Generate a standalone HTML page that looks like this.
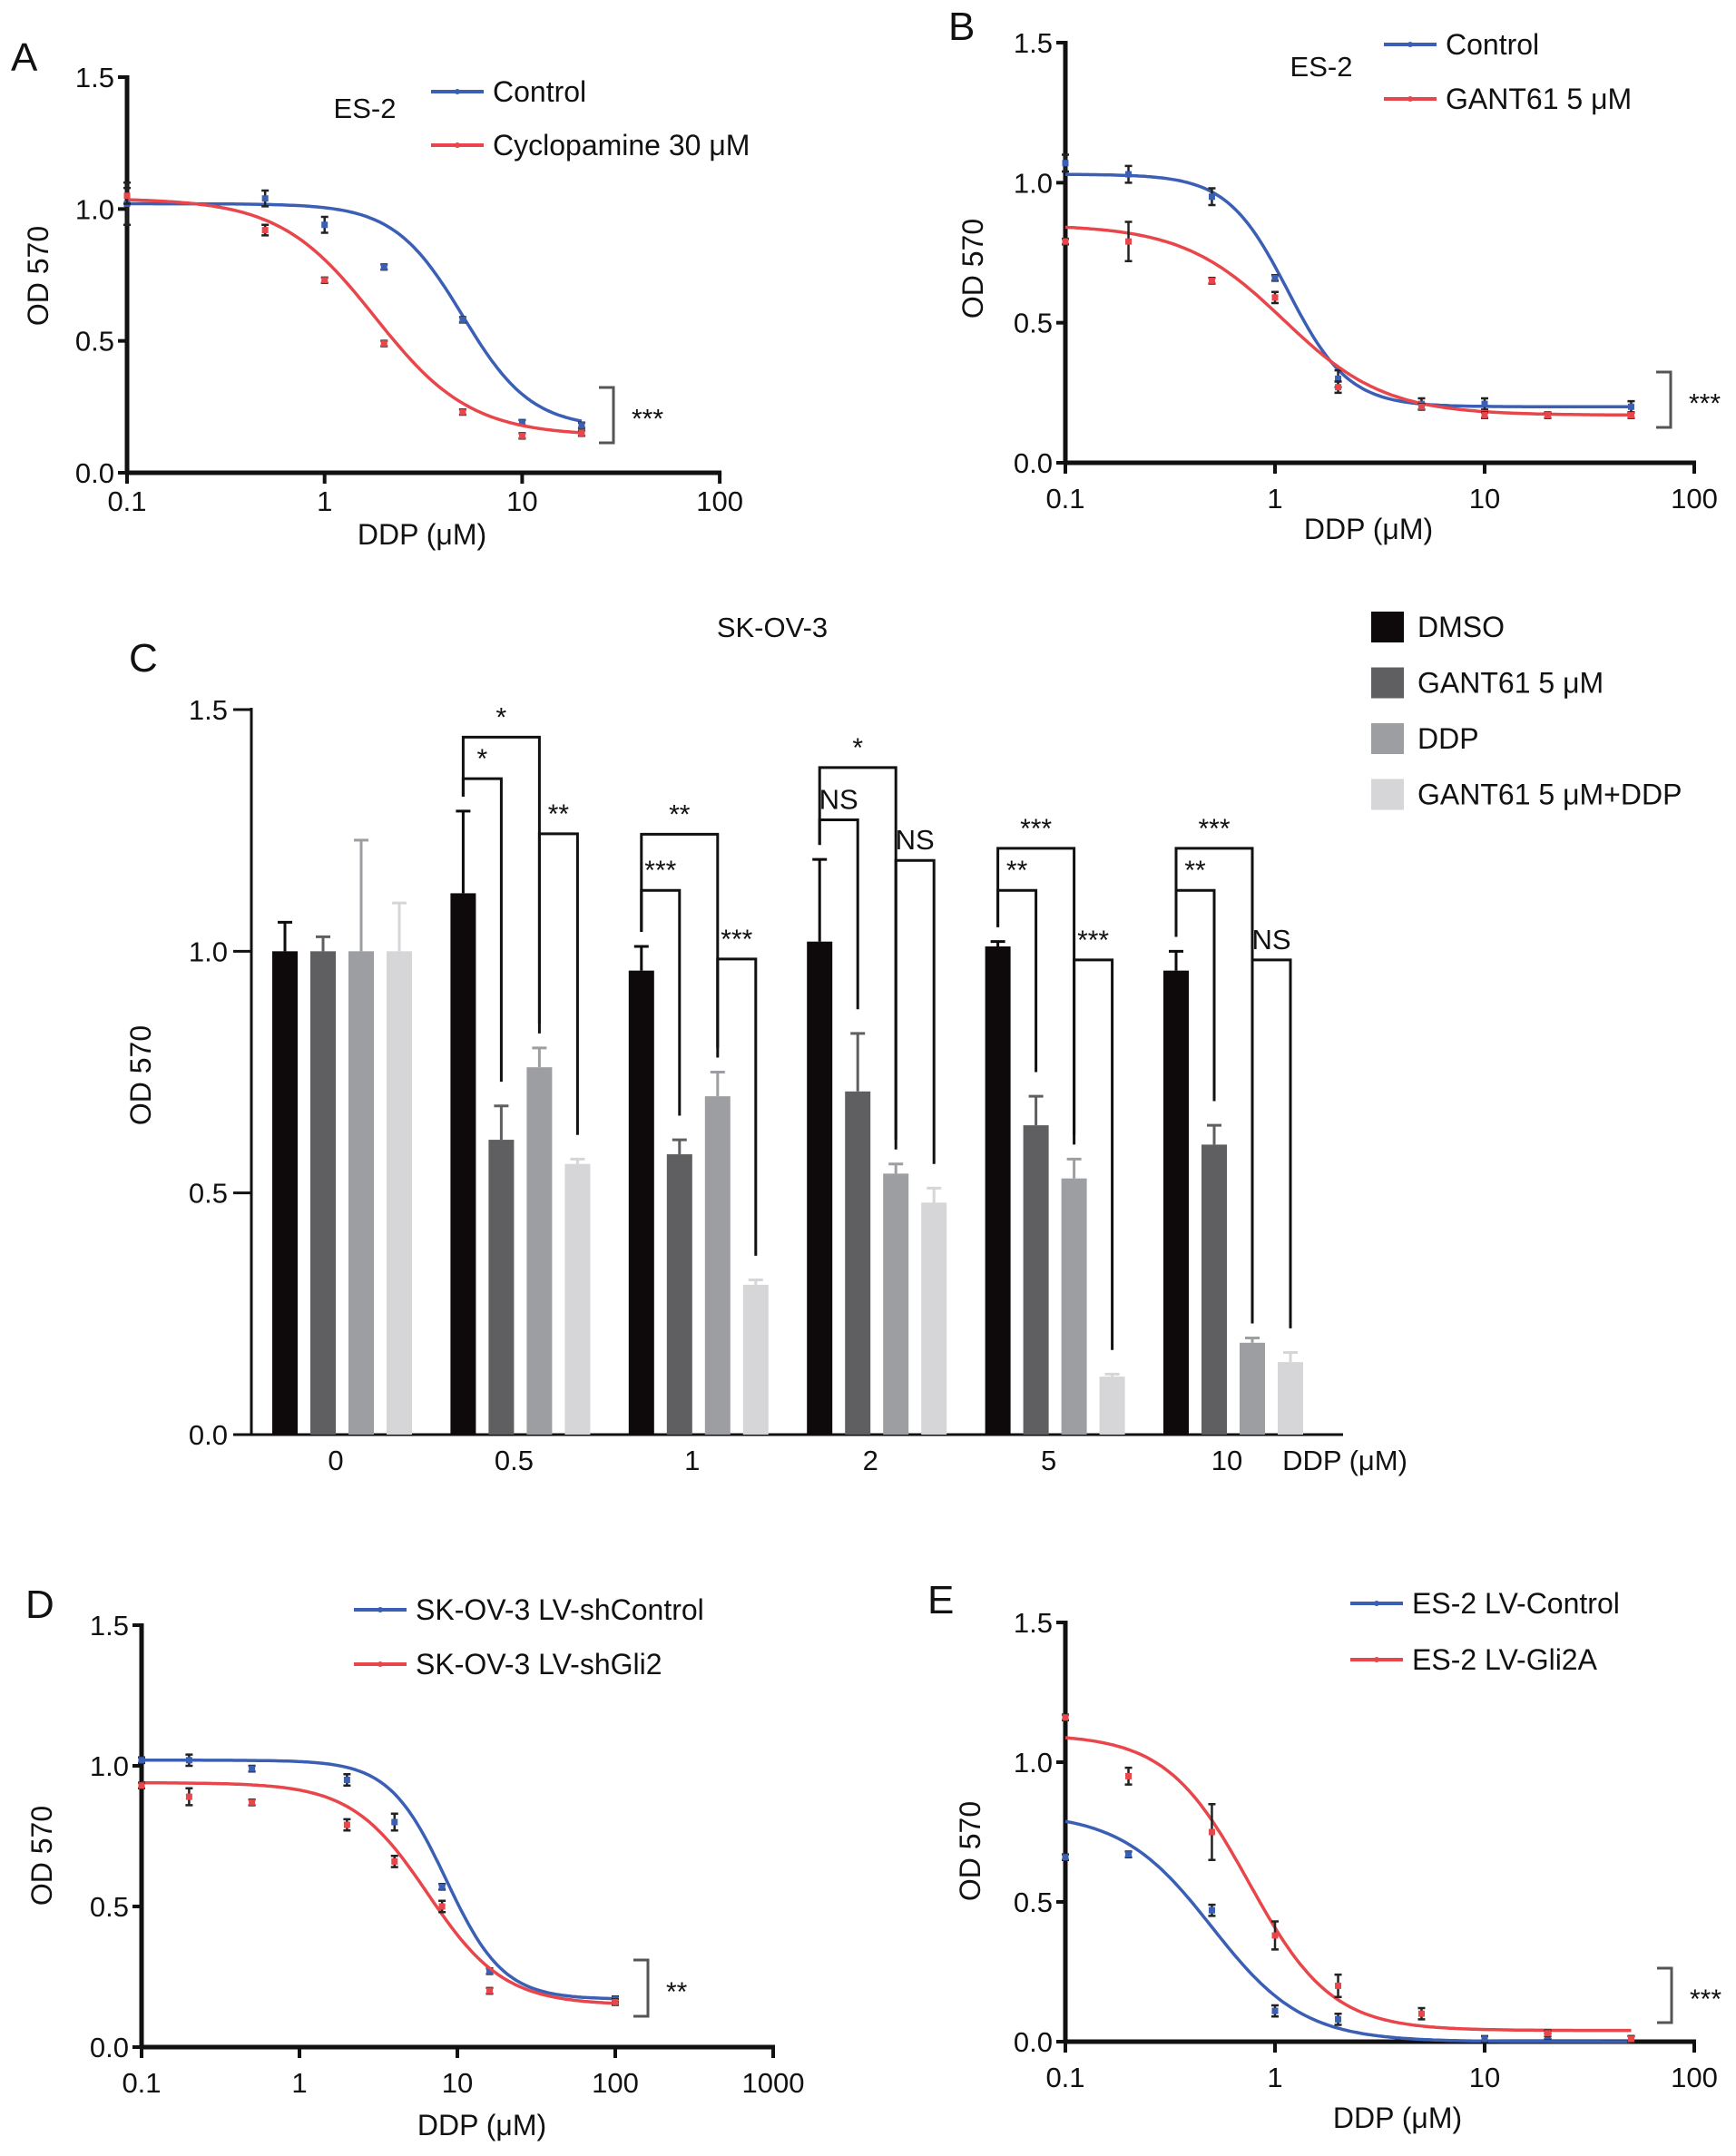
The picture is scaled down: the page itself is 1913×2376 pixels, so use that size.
<!DOCTYPE html>
<html><head><meta charset="utf-8"><style>
html,body{margin:0;padding:0;background:#fff}
svg{display:block;font-family:"Liberation Sans",Arial,sans-serif}
</style></head><body>
<svg id="fig" width="1913" height="2376" viewBox="0 0 1913 2376" xmlns="http://www.w3.org/2000/svg"></svg>
<script>
// ---------- Panel A data ----------
const aX = [0.1, 0.5, 1, 2, 5, 10, 20];
const aCtrl = [1.02, 1.04, 0.94, 0.78, 0.58, 0.19, 0.18];
const aCtrlErr = [0.08, 0.03, 0.03, 0.01, 0.01, 0.01, 0.01];
const aCyc = [1.05, 0.92, 0.73, 0.49, 0.23, 0.14, 0.15];
const aCycErr = [0.03, 0.02, 0.01, 0.01, 0.01, 0.01, 0.01];
const aCtrlFit = [1.02, 0.17, 5.0, 2.5];
const aCycFit = [1.04, 0.14, 1.8, 1.8];
// ---------- Panel B data ----------
const bX = [0.1, 0.2, 0.5, 1, 2, 5, 10, 50];
const bCtrl = [1.07, 1.03, 0.95, 0.66, 0.30, 0.21, 0.21, 0.20];
const bCtrlErr = [0.03, 0.03, 0.03, 0.01, 0.03, 0.02, 0.02, 0.02];
const bX2 = [0.1, 0.2, 0.5, 1, 2, 5, 10, 20, 50];
const bGant = [0.79, 0.79, 0.65, 0.59, 0.27, 0.20, 0.17, 0.17, 0.17];
const bGantErr = [0.01, 0.07, 0.01, 0.02, 0.02, 0.01, 0.01, 0.01, 0.01];
const bCtrlFit = [1.03, 0.20, 1.15, 3.0];
const bGantFit = [0.85, 0.17, 1.1, 1.8];
// ---------- Panel C data ----------
const cGroups = ["0", "0.5", "1", "2", "5", "10"];
const cDmso = [1.00, 1.12, 0.96, 1.02, 1.01, 0.96];
const cDmsoErr = [0.06, 0.17, 0.05, 0.17, 0.01, 0.04];
const cGant = [1.00, 0.61, 0.58, 0.71, 0.64, 0.60];
const cGantErr = [0.03, 0.07, 0.03, 0.12, 0.06, 0.04];
const cDdp = [1.00, 0.76, 0.70, 0.54, 0.53, 0.19];
const cDdpErr = [0.23, 0.04, 0.05, 0.02, 0.04, 0.01];
const cCombo = [1.00, 0.56, 0.31, 0.48, 0.12, 0.15];
const cComboErr = [0.10, 0.01, 0.01, 0.03, 0.005, 0.02];
const cYTicks = [0.0, 0.5, 1.0, 1.5];
// brackets: group, barA, barB, height, label
const cBrGroup = [1,1,1, 2,2,2, 3,3,3, 4,4,4, 5,5,5];
const cBrA =     [0,0,2, 0,0,2, 0,0,2, 0,0,2, 0,0,2];
const cBrB =     [1,2,3, 1,2,3, 1,2,3, 1,2,3, 1,2,3];
const cBrH = [1.357,1.443,1.243, 1.126,1.242,0.984, 1.272,1.38,1.188, 1.126,1.213,0.982, 1.126,1.213,0.982];
const cBrLabel = ["*","*","**", "***","**","***", "NS","*","NS", "**","***","***", "**","***","NS"];
// ---------- Panel D data ----------
const dX = [0.1, 0.2, 0.5, 2, 4, 8, 16, 100];
const dCtrl = [1.02, 1.02, 0.99, 0.95, 0.80, 0.57, 0.27, 0.17];
const dCtrlErr = [0.01, 0.02, 0.01, 0.02, 0.03, 0.01, 0.01, 0.01];
const dGli = [0.93, 0.89, 0.87, 0.79, 0.66, 0.50, 0.20, 0.16];
const dGliErr = [0.01, 0.03, 0.01, 0.02, 0.02, 0.02, 0.01, 0.01];
const dCtrlFit = [1.02, 0.17, 8.5, 2.4];
const dGliFit = [0.94, 0.15, 6.5, 1.8];
// ---------- Panel E data ----------
const eX = [0.1, 0.2, 0.5, 1, 2, 10, 20, 50];
const eCtrl = [0.66, 0.67, 0.47, 0.11, 0.08, 0.01, 0.02, 0.01];
const eCtrlErr = [0.01, 0.01, 0.02, 0.02, 0.02, 0.01, 0.01, 0.01];
const eX2 = [0.1, 0.2, 0.5, 1, 2, 5, 20, 50];
const eGli = [1.16, 0.95, 0.75, 0.38, 0.20, 0.10, 0.03, 0.01];
const eGliErr = [0.01, 0.03, 0.10, 0.05, 0.04, 0.02, 0.01, 0.01];
const eCtrlFit = [0.82, 0.0, 0.5, 2.0];
const eGliFit = [1.1, 0.04, 0.75, 2.2];

const NS = "http://www.w3.org/2000/svg";
const svg = document.getElementById("fig");
function el(tag, attrs, parent, text) {
  const e = document.createElementNS(NS, tag);
  for (const k in attrs) e.setAttribute(k, attrs[k]);
  if (text !== undefined) e.textContent = text;
  (parent || svg).appendChild(e);
  return e;
}
function hill(p, x) { return p[1] + (p[0] - p[1]) / (1 + Math.pow(x / p[2], p[3])); }

function curvePanel(P) {
  const g = el("g", {});
  
  
  const sx = v => P.x0 + (Math.log10(v) + 1) * P.dec;
  const sy = v => P.y0 - v * (P.y0 - P.y15) / 1.5;
  const xEnd = P.x0 + P.nDec * P.dec;
  // axes
  const ya = el("line", {x1:P.x0, y1:sy(1.5)-2, x2:P.x0, y2:P.y0, stroke:"#111", "stroke-width":5}, g);
  
  
  const xa = el("line", {x1:P.x0-2, y1:P.y0, x2:xEnd+2, y2:P.y0, stroke:"#111", "stroke-width":5}, g);
  
  
  [0, 0.5, 1.0, 1.5].forEach(v => {
    el("line", {x1:P.x0-10, y1:sy(v), x2:P.x0, y2:sy(v), stroke:"#111", "stroke-width":4}, g);
    const t = el("text", {x:P.x0-14, y:sy(v)+11, "font-size":31, "text-anchor":"end", fill:"#111"}, g, v.toFixed(1));
    
    
  });
  P.xLabels.forEach((lab, i) => {
    const x = P.x0 + i * P.dec;
    el("line", {x1:x, y1:P.y0, x2:x, y2:P.y0+12, stroke:"#111", "stroke-width":4}, g);
    const t = el("text", {x:x, y:P.tickY, "font-size":31, "text-anchor":"middle", fill:"#111"}, g, lab);
    
    
  });
  const xt = el("text", {x:P.xtX, y:P.xtY, "font-size":32, "text-anchor":"middle", fill:"#111"}, g, "DDP (\u03bcM)");
  
  
  const yt = el("text", {x:0, y:0, "font-size":32, "text-anchor":"middle", fill:"#111", transform:`translate(${P.ytX},${P.ytY}) rotate(-90)`}, g, "OD 570");
  
  
  const lt = el("text", {x:P.letter[0], y:P.letter[1], "font-size":44, fill:"#111"}, g, P.letterText);
  
  
  if (P.cell) {
    const c = el("text", {x:P.cell[0], y:P.cell[1], "font-size":31, "text-anchor":"middle", fill:"#111"}, g, P.cellText);
    
    
  }
  P.series.forEach((s, si) => {
    // legend
    const ly = P.legY[si];
    const lg = el("g", {}, g);
    
    
    el("line", {x1:P.legX, y1:ly, x2:P.legX+58, y2:ly, stroke:s.color, "stroke-width":4}, lg);
    el("circle", {cx:P.legX+29, cy:ly, r:3, fill:s.color}, lg);
    el("text", {x:P.legX+68, y:ly+11, "font-size":32, fill:"#111"}, lg, s.label);
    // fitted curve
    let d = "";
    const lo = Math.log10(s.x[0]), hi = Math.log10(s.x[s.x.length-1]);
    for (let k = 0; k <= 200; k++) {
      const lx = lo + (hi - lo) * k / 200;
      const v = hill(s.fit, Math.pow(10, lx));
      d += (k ? "L" : "M") + sx(Math.pow(10, lx)).toFixed(1) + "," + sy(v).toFixed(1);
    }
    const cp = el("path", {d:d, fill:"none", stroke:s.color, "stroke-width":3.5}, g);
    
    
    s.x.forEach((xv, i) => {
      const px = sx(xv), py = sy(s.y[i]), e = s.err[i];
      const eb = el("path", {d:`M${px},${sy(s.y[i]+e)}V${sy(s.y[i]-e)}M${px-4},${sy(s.y[i]+e)}H${px+4}M${px-4},${sy(s.y[i]-e)}H${px+4}`, stroke:"#222", "stroke-width":2.5, fill:"none"}, g);
      
      
      const pt = el("rect", {x:px-3.5, y:py-3.5, width:7, height:7, fill:s.color}, g);
      
      
    });
  });
  const b = P.br;
  const br = el("path", {d:`M${b[0]},${b[1]}H${b[0]+16}V${b[2]}H${b[0]}`, fill:"none", stroke:"#555", "stroke-width":3}, g);
  
  
  const st = el("text", {x:b[0]+36, y:(b[1]+b[2])/2+14, "font-size":30, fill:"#111"}, g, P.stars);
  
  
}

const BLUE = "#3a5fb5", RED = "#e8464a";
curvePanel({name:"panel-a", x0:140, dec:217.7, nDec:3, y0:521, y15:85, xLabels:["0.1","1","10","100"], tickY:563,
  xtX:465, xtY:600, ytX:53, ytY:304, letter:[12,78], letterText:"A", cell:[402,130], cellText:"ES-2",
  legX:475, legY:[101,160], br:[660,427,488], stars:"***",
  series:[{label:"Control", color:BLUE, x:aX, y:aCtrl, err:aCtrlErr, fit:aCtrlFit},
          {label:"Cyclopamine 30 \u03bcM", color:RED, x:aX, y:aCyc, err:aCycErr, fit:aCycFit}]});
curvePanel({name:"panel-b", x0:1174, dec:231, nDec:3, y0:510, y15:47, xLabels:["0.1","1","10","100"], tickY:560,
  xtX:1508, xtY:594, ytX:1083, ytY:296, letter:[1045,44], letterText:"B", cell:[1456,84], cellText:"ES-2",
  legX:1525, legY:[49,109], br:[1825,410,471], stars:"***",
  series:[{label:"Control", color:BLUE, x:bX, y:bCtrl, err:bCtrlErr, fit:bCtrlFit},
          {label:"GANT61 5 \u03bcM", color:RED, x:bX2, y:bGant, err:bGantErr, fit:bGantFit}]});
curvePanel({name:"panel-d", x0:156, dec:174, nDec:4, y0:2256, y15:1791, xLabels:["0.1","1","10","100","1000"], tickY:2306,
  xtX:531, xtY:2353, ytX:57, ytY:2045, letter:[28,1783], letterText:"D",
  legX:390, legY:[1774,1834], br:[698,2160,2222], stars:"**",
  series:[{label:"SK-OV-3 LV-shControl", color:BLUE, x:dX, y:dCtrl, err:dCtrlErr, fit:dCtrlFit},
          {label:"SK-OV-3 LV-shGli2", color:RED, x:dX, y:dGli, err:dGliErr, fit:dGliFit}]});
curvePanel({name:"panel-e", x0:1174, dec:231, nDec:3, y0:2250, y15:1788, xLabels:["0.1","1","10","100"], tickY:2300,
  xtX:1540, xtY:2345, ytX:1080, ytY:2040, letter:[1022,1778], letterText:"E",
  legX:1488, legY:[1767,1829], br:[1826,2169,2229], stars:"***",
  series:[{label:"ES-2 LV-Control", color:BLUE, x:eX, y:eCtrl, err:eCtrlErr, fit:eCtrlFit},
          {label:"ES-2 LV-Gli2A", color:RED, x:eX2, y:eGli, err:eGliErr, fit:eGliFit}]});

// ---------- Panel C ----------
(function(){
  const g = el("g", {});
  
  
  const X0 = 277, XEND = 1480, Y0 = 1581, Y15 = 782;
  const sy = v => Y0 - v * (Y0 - Y15) / 1.5;
  const gStart = 314, gStep = 196.4, bStep = 42, bw = 28;
  const bx = (gi, bi) => gStart + gi * gStep + bi * bStep;
  const cols = ["#0e0a0c", "#5f5f61", "#9d9ea2", "#d6d6d8"];
  const names = ["DMSO", "GANT61 5 \u03bcM", "DDP", "GANT61 5 \u03bcM+DDP"];
  const vals = [cDmso, cGant, cDdp, cCombo], errs = [cDmsoErr, cGantErr, cDdpErr, cComboErr];
  const ya = el("line", {x1:X0, y1:Y15-2, x2:X0, y2:Y0, stroke:"#111", "stroke-width":3}, g);
  
  
  const xa = el("line", {x1:X0, y1:Y0, x2:XEND, y2:Y0, stroke:"#111", "stroke-width":3}, g);
  
  
  cYTicks.forEach(v => {
    el("line", {x1:X0-20, y1:sy(v), x2:X0, y2:sy(v), stroke:"#111", "stroke-width":3}, g);
    const t = el("text", {x:X0-26, y:sy(v)+11, "font-size":31, "text-anchor":"end", fill:"#111"}, g, v.toFixed(1));
    
    
  });
  cGroups.forEach((lab, gi) => {
    const t = el("text", {x:bx(gi, 0) + 56, y:1620, "font-size":31, "text-anchor":"middle", fill:"#111"}, g, lab);
    
    
    for (let bi = 0; bi < 4; bi++) {
      const v = vals[bi][gi], e = errs[bi][gi], cx = bx(gi, bi);
      const r = el("rect", {x:cx - bw/2, y:sy(v), width:bw, height:Y0 - sy(v), fill:cols[bi]}, g);
      
      
      const eb = el("path", {d:`M${cx},${sy(v)}V${sy(v+e)}M${cx-8},${sy(v+e)}H${cx+8}`, stroke:cols[bi], "stroke-width":3, fill:"none"}, g);
      
      
    }
  });
  cBrH.forEach((h, k) => {
    const gi = cBrGroup[k], a = cBrA[k], b = cBrB[k];
    const xa_ = bx(gi, a), xb = bx(gi, b);
    const ta = vals[a][gi] + errs[a][gi] + 0.03, tb = vals[b][gi] + errs[b][gi] + 0.05;
    const p = el("path", {d:`M${xa_},${sy(ta)}V${sy(h)}H${xb}V${sy(tb)}`, fill:"none", stroke:"#111", "stroke-width":3}, g);
    
    
    const t = el("text", {x:(xa_ + xb) / 2, y:sy(h) - 12, "font-size":cBrLabel[k] === "NS" ? 31 : 30, "text-anchor":"middle", fill:"#111"}, g, cBrLabel[k]);
    
    
  });
  const xt = el("text", {x:1482, y:1620, "font-size":31, "text-anchor":"middle", fill:"#111"}, g, "DDP (\u03bcM)");
  
  
  const yt = el("text", {x:0, y:0, "font-size":32, "text-anchor":"middle", fill:"#111", transform:"translate(166,1185) rotate(-90)"}, g, "OD 570");
  
  
  const ti = el("text", {x:851, y:702, "font-size":31, "text-anchor":"middle", fill:"#111"}, g, "SK-OV-3");
  
  
  const lt = el("text", {x:142, y:740, "font-size":44, fill:"#111"}, g, "C");
  
  
  names.forEach((n, i) => {
    const ly = 691 + i * 61.5;
    const lg = el("g", {}, g);
    
    
    el("rect", {x:1511, y:ly - 17, width:36, height:34, fill:cols[i]}, lg);
    el("text", {x:1562, y:ly + 11, "font-size":32, fill:"#111"}, lg, n);
  });
})();
</script>
</body></html>
